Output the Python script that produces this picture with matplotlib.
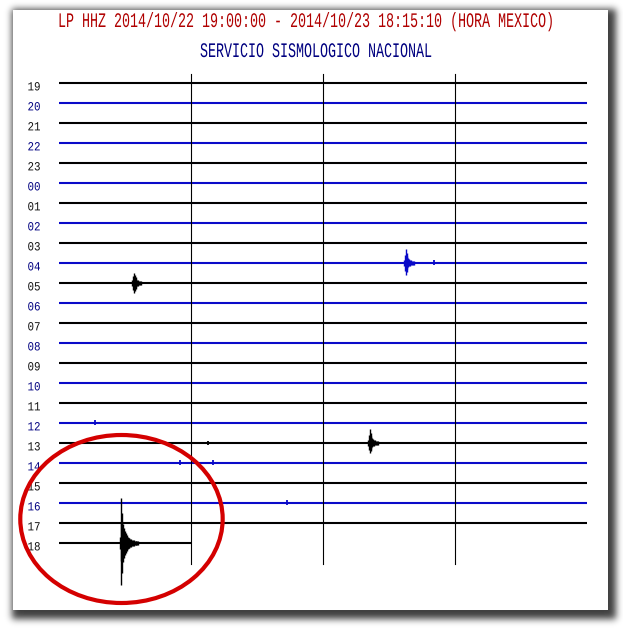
import numpy as np
import matplotlib
matplotlib.use('Agg')
import matplotlib.pyplot as plt
from matplotlib.patches import Rectangle, Ellipse
from matplotlib import patheffects
from matplotlib.transforms import Affine2D

# ---------------- data ----------------
hour_labels = ['19', '20', '21', '22', '23', '00', '01', '02', '03', '04', '05', '06',
               '07', '08', '09', '10', '11', '12', '13', '14', '15', '16', '17', '18']
trace_colors = ['black', 'blue', 'black', 'blue', 'black', 'blue', 'black', 'blue',
                'black', 'blue', 'black', 'blue', 'black', 'blue', 'black', 'blue',
                'black', 'blue', 'black', 'blue', 'black', 'blue', 'black', 'black']
row_end_minute = [60] * 23 + [15.17]
grid_minutes = [15, 30, 45]

# seismic events: hour row, onset minute, envelope above / below (counts, 0.1 min steps)
event_hour = ['05', '04', '13', '18']
event_minute = [8.3, 39.2, 35.1, 6.9]
event_up = [
    [3, 7, 10, 8, 6, 4, 3, 3, 2, 2, 2],
    [3, 8, 14, 10, 7, 5, 4, 3, 3, 2, 2, 2],
    [3, 8, 14, 10, 7, 5, 4, 3, 3, 2, 2, 2],
    [6, 20, 45, 30, 19, 15, 12, 10, 8, 6, 5, 5, 4, 4, 3, 3, 3, 2, 2, 2, 2, 2],
]
event_down = [
    [3, 7, 10, 8, 6, 4, 3, 3, 2, 2, 2],
    [3, 8, 12, 9, 6, 4, 3, 3, 2, 2, 2, 2],
    [3, 7, 10, 8, 6, 4, 3, 3, 2, 2, 2, 2],
    [6, 18, 42, 30, 19, 15, 12, 10, 8, 6, 5, 5, 4, 4, 3, 3, 3, 2, 2, 2, 2, 2],
]

# small blips
blip_hour = ['12', '13', '14', '14', '16', '04']
blip_minute = [4.1, 16.9, 13.7, 17.5, 25.9, 42.6]
blip_amp = [2.5, 2, 2.5, 2.5, 2.5, 2.5]

title_text = 'LP HHZ 2014/10/22 19:00:00 - 2014/10/23 18:15:10 (HORA MEXICO)'
subtitle_text = 'SERVICIO SISMOLOGICO NACIONAL'

# ---------------- style ----------------
W, H = 623, 628
AMP = 0.05          # rows per count
BLUE = '#0a0ac8'
LABEL_COL = {'black': '#101010', 'blue': '#000080'}
TRACE_COL = {'black': '#000000', 'blue': BLUE}
FONT = ['Liberation Mono', 'DejaVu Sans Mono']


class VStretch(patheffects.AbstractPathEffect):
    def __init__(self, sy):
        super().__init__()
        self.sy = sy

    def draw_path(self, renderer, gc, tpath, affine, rgbFace=None):
        renderer.draw_path(gc, tpath, Affine2D().scale(1, self.sy) + affine, rgbFace)


fig = plt.figure(figsize=(W / 100, H / 100), dpi=100)
fig.patch.set_facecolor('white')

# background page with drop shadow
bg = fig.add_axes([0, 0, 1, 1], zorder=-5)
bg.set_xlim(0, W)
bg.set_ylim(H, 0)
bg.axis('off')
mask = np.zeros((H, W))
mask[9:619, 12:616] = 1.0
sig = 3.5
k = np.arange(-12, 13)
ker = np.exp(-k ** 2 / (2 * sig ** 2))
ker /= ker.sum()
mask = np.apply_along_axis(lambda r: np.convolve(r, ker, mode='same'), 1, mask)
mask = np.apply_along_axis(lambda c: np.convolve(c, ker, mode='same'), 0, mask)
shade = 1 - 0.75 * mask
bg.imshow(shade, cmap='gray', vmin=0, vmax=1, extent=(0, W, H, 0), interpolation='bilinear')
bg.add_patch(Rectangle((13, 10), 595, 600, facecolor='white', edgecolor='none'))

# trace axes
left_px, right_px = 59, 587
top_px, bot_px = 73, 593
ax = fig.add_axes([left_px / W, 1 - bot_px / H, (right_px - left_px) / W, (bot_px - top_px) / H])
ax.set_xlim(0, 60)
ax.set_ylim(25.5, -0.5)
ax.axis('off')

row_of = {h: i for i, h in enumerate(hour_labels)}

for i, (lab, col, end) in enumerate(zip(hour_labels, trace_colors, row_end_minute)):
    ax.plot([0, end], [i, i], color=TRACE_COL[col], lw=1.5, solid_capstyle='butt', zorder=3)
    ax.text(-2.1, i + 0.22, lab, ha='right', va='center', fontsize=7.8,
            color=LABEL_COL[col], family=FONT, clip_on=False,
            path_effects=[VStretch(1.15)])

for m in grid_minutes:
    ax.plot([m, m], [-0.45, 24.05], color='black', lw=0.8, zorder=4, clip_on=False)

for h, m0, up, dn in zip(event_hour, event_minute, event_up, event_down):
    r = row_of[h]
    col = TRACE_COL[trace_colors[r]]
    ts = m0 + 0.1 * np.arange(len(up))
    ax.vlines(ts, r - AMP * np.array(up), r + AMP * np.array(dn), color=col,
              lw=1.0, zorder=5, clip_on=False)

for h, m0, a in zip(blip_hour, blip_minute, blip_amp):
    r = row_of[h]
    col = TRACE_COL[trace_colors[r]]
    ax.vlines([m0], r - AMP * a, r + AMP * a, color=col, lw=1.3, zorder=5)

# red circle
ax.add_patch(Ellipse((7.1, 21.8), 23.0, 8.4, fill=False, edgecolor='#d40000', lw=3.0,
                     zorder=6, clip_on=False))

# titles
fig.text(306 / W, 1 - 27 / H, title_text, ha='center', va='baseline', fontsize=9.6,
         color='#b00000', family=FONT, path_effects=[VStretch(1.55)])
fig.text(316 / W, 1 - 57 / H, subtitle_text, ha='center', va='baseline', fontsize=9.6,
         color='#000080', family=FONT, path_effects=[VStretch(1.55)])

fig.savefig('out.png', dpi=100, facecolor=fig.get_facecolor())
